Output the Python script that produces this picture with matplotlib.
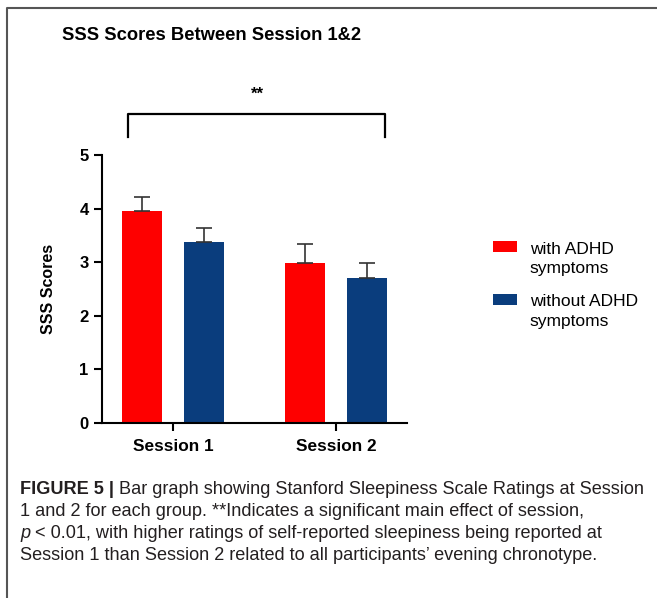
import matplotlib
matplotlib.use('Agg')
import matplotlib.pyplot as plt
from matplotlib.lines import Line2D
from matplotlib.patches import Rectangle
from matplotlib.container import BarContainer
from matplotlib.legend_handler import HandlerPatch, update_from_first_child
import numpy as np

plt.rcParams['font.family'] = ['Liberation Sans', 'DejaVu Sans']

# data
sessions = ['Session 1', 'Session 2']
groups = ['with ADHD\nsymptoms', 'without ADHD\nsymptoms']
means = [[3.95, 2.99], [3.37, 2.71]]
errs = [[0.27, 0.35], [0.27, 0.28]]
colors = ['#fe0000', '#0a3d7d']

fig = plt.figure(figsize=(6.57, 5.98), dpi=100)
ax = fig.add_axes([0.1553, 0.2926, 0.4642, 0.4482])

x = np.arange(len(sessions))
width = 0.245
offsets = [-0.188, 0.188]
for i in range(len(groups)):
    ax.bar(x + offsets[i], means[i], width, color=colors[i], label=groups[i],
           yerr=[np.zeros(len(sessions)), errs[i]], capsize=5.5,
           error_kw=dict(ecolor='#333333', elinewidth=1.2, capthick=1.2), zorder=2)

ax.set_xlim(-0.436, 1.436)
ax.set_ylim(0, 5)
ax.set_yticks([0, 1, 2, 3, 4, 5])
ax.set_xticks(x)
ax.set_xticklabels(sessions, fontsize=12.4, fontweight='bold')
for lab in ax.get_yticklabels():
    lab.set_fontsize(12)
    lab.set_fontweight('bold')
ax.tick_params(axis='both', width=1.5, length=6, direction='out')
ax.tick_params(axis='y', pad=3.6)
ax.tick_params(axis='x', pad=5.5)
for s in ['top', 'right']:
    ax.spines[s].set_visible(False)
for s in ['left', 'bottom']:
    ax.spines[s].set_linewidth(1.5)
ax.set_ylabel('SSS Scores', fontsize=11.5, fontweight='bold', labelpad=17)

# significance bracket
ax.plot([-0.276, -0.276, 1.30, 1.30], [5.34, 5.76, 5.76, 5.34], color='black',
        lw=1.6, clip_on=False)
ax.text(0.517, 6.0, '**', ha='center', va='bottom', fontsize=12, fontweight='bold')

fig.text(62 / 657, 1 - 36 / 598, 'SSS Scores Between Session 1&2', fontsize=13.2,
         fontweight='bold', va='center', ha='left')


# legend swatch sits beside the first line of a two-line label
def top_patch(legend, orig_handle, xdescent, ydescent, width, height, fontsize):
    ph = 0.63 * fontsize
    y0 = 1.05 * fontsize - ph / 2
    return Rectangle((-xdescent, y0), width, ph)


leg = ax.legend(loc='upper left', bbox_to_anchor=(493 / 657, 1 - 242 / 598),
                bbox_transform=fig.transFigure, frameon=False, fontsize=12.5,
                handlelength=1.38, handleheight=2.0, handletextpad=0.75,
                labelspacing=1.05, borderpad=0, borderaxespad=0,
                handler_map={BarContainer: HandlerPatch(patch_func=top_patch,
                                                        update_func=update_from_first_child)})
for t in leg.get_texts():
    t.set_linespacing(1.35)

# caption
caption = [
    [('FIGURE 5 | ', 'bold', 'normal'),
     ('Bar graph showing Stanford Sleepiness Scale Ratings at Session', 'normal', 'normal')],
    [('1 and 2 for each group. **Indicates a significant main effect of session,', 'normal', 'normal')],
    [('p', 'normal', 'italic'), (' < 0.01, with higher ratings of self-reported sleepiness being reported at', 'normal', 'normal')],
    [('Session 1 than Session 2 related to all participants\u2019 evening chronotype.', 'normal', 'normal')],
]
fig.canvas.draw()
renderer = fig.canvas.get_renderer()
line_y = [490, 512, 533, 555]
for row, yy in zip(caption, line_y):
    xpos = 20
    for txt, w, st in row:
        t = fig.text(xpos / 657, 1 - yy / 598, txt, fontsize=13.1, fontweight=w,
                     fontstyle=st, color='#231f20', va='center', ha='left')
        bb = t.get_window_extent(renderer)
        xpos += bb.width

# frame lines of the cropped figure
fig.add_artist(Line2D([7 / 657, 7 / 657, 1], [0, 1 - 8 / 598, 1 - 8 / 598],
                      transform=fig.transFigure, color='#555555', lw=1.5))

fig.savefig('out.png', dpi=100)
